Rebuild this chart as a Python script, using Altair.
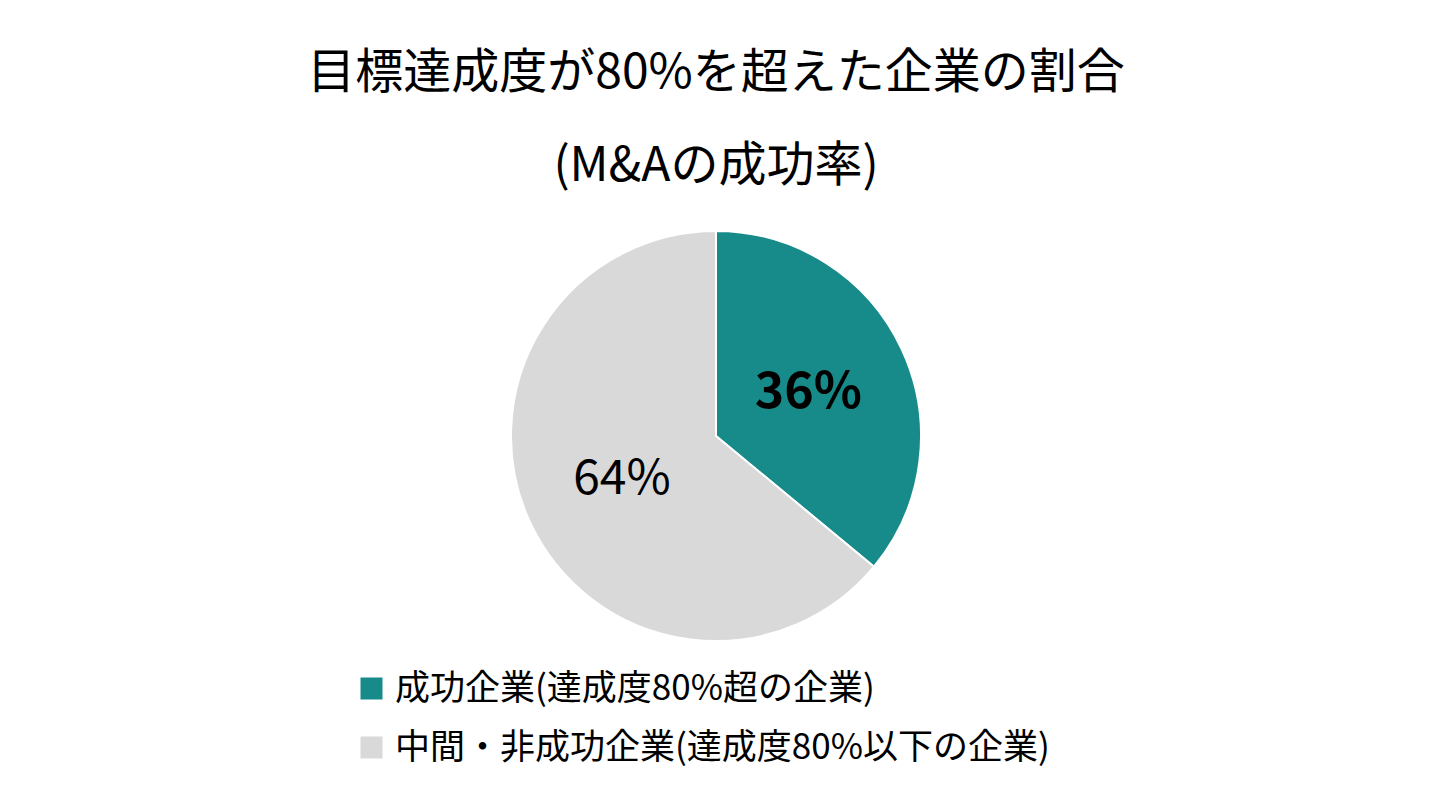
import altair as alt
import pandas as pd

categories = ["成功企業(達成度80%超の企業)", "中間・非成功企業(達成度80%以下の企業)"]
values = [36, 64]
labels = ["36%", "64%"]
colors = ["#178B8A", "#D9D9D9"]
title_lines = ["目標達成度が80%を超えた企業の割合", "(M&Aの成功率)"]

df = pd.DataFrame({"cat": categories, "val": values, "label": labels, "idx": [0, 1]})
FONT = "Noto Sans CJK JP"

T = 200
W = 1416
H = 2 * (428 - T)

base = alt.Chart(df).transform_window(
    cum="sum(val)", sort=[alt.SortField("idx")]
).transform_calculate(mid="datum.cum - datum.val / 2")

theta_scale = alt.Scale(domain=[0, 100], range=[0, 6.283185307])

arc = alt.Chart(df).mark_arc(outerRadius=205, stroke="white", strokeWidth=2).encode(
    theta=alt.Theta("val:Q", stack=True, scale=theta_scale),
    order=alt.Order("idx:Q"),
    color=alt.Color(
        "cat:N",
        scale=alt.Scale(domain=categories, range=colors),
        sort=categories,
        legend=alt.Legend(
            orient="none",
            legendX=346,
            legendY=463,
            title=None,
            symbolType="square",
            symbolSize=484,
            symbolStrokeWidth=0,
            labelFont=FONT,
            labelFontSize=35,
            labelColor="black",
            labelLimit=1000,
            rowPadding=23,
            labelOffset=6,
        ),
    ),
)

txt36 = base.transform_filter("datum.idx == 0").mark_text(
    radius=102, font=FONT, fontSize=50, fontWeight="bold", color="black"
).encode(theta=alt.Theta("mid:Q", stack=None, scale=theta_scale), text="label:N")

txt64 = base.transform_filter("datum.idx == 1").mark_text(
    radius=104, font=FONT, fontSize=48, fontWeight="normal", color="black"
).encode(theta=alt.Theta("mid:Q", stack=None, scale=theta_scale), text="label:N")

chart = alt.layer(arc, txt36, txt64).properties(
    width=W,
    height=H,
    padding={"left": 0, "right": 8, "top": T, "bottom": 794 - T - H},
    autosize=alt.AutoSizeParams(type="none"),
    title=alt.Title(
        title_lines,
        font=FONT,
        fontSize=48,
        fontWeight="normal",
        color="black",
        lineHeight=93,
        anchor="middle",
        offset=17,
    ),
).configure_view(stroke=None)

chart.save("out.html", embed_options={"renderer": "svg", "actions": False})
